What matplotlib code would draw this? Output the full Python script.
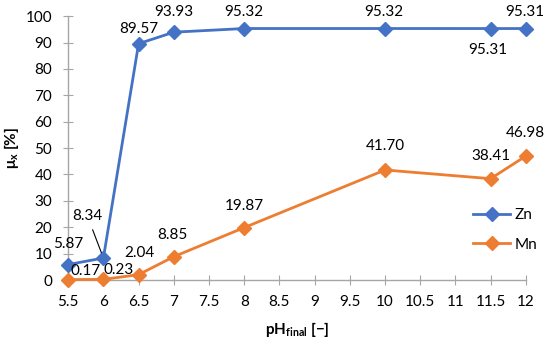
import matplotlib.pyplot as plt
import numpy as np

plt.rcParams['font.family'] = ['Lato', 'DejaVu Sans']
plt.rcParams['mathtext.fontset'] = 'custom'
plt.rcParams['mathtext.rm'] = 'Lato'
plt.rcParams['mathtext.bf'] = 'Lato:bold'

# data
ph = [5.5, 6, 6.5, 7, 8, 10, 11.5, 12]
zn = [5.87, 8.34, 89.57, 93.93, 95.32, 95.32, 95.31, 95.31]
mn = [0.17, 0.23, 2.04, 8.85, 19.87, 41.70, 38.41, 46.98]
xtick_labels = ['5.5', '6', '6.5', '7', '7.5', '8', '8.5', '9', '9.5', '10', '10.5', '11', '11.5', '12']

# label offsets (pixels) for each point
zn_off = [(0, 21), (-16, 42), (0, 15), (0, 20), (0, 17), (-1, 17), (-3, -21), (-1, 17)]
mn_off = [(17, 9), (15, 9), (1, 22), (-1, 22), (0, 22), (0, 24), (0, 23), (0, 23)]

blue = '#4472C4'
orange = '#ED7D31'
grey = '#A6A6A6'

fig, ax = plt.subplots(figsize=(5.5, 3.44), dpi=100)
fig.subplots_adjust(left=0.124, right=0.956, bottom=0.186, top=0.953)

ax.plot(ph, zn, color=blue, lw=2, marker='D', ms=7, label='Zn', clip_on=False, zorder=3)
ax.plot(ph, mn, color=orange, lw=2, marker='D', ms=7, label='Mn', clip_on=False, zorder=3)

for x, y, o in zip(ph, zn, zn_off):
    kw = {}
    if x == 6:
        kw = dict(arrowprops=dict(arrowstyle='-', color='black', lw=0.8, shrinkA=3, shrinkB=4))
    ax.annotate(f'{y:.2f}', (x, y), xytext=o, textcoords='offset pixels',
                ha='center', va='center', fontsize=11, **kw)
for x, y, o in zip(ph, mn, mn_off):
    ax.annotate(f'{y:.2f}', (x, y), xytext=o, textcoords='offset pixels',
                ha='center', va='center', fontsize=11)

ax.set_xlim(5.5, 12)
ax.set_ylim(0, 100)
ax.set_xticks(np.arange(5.5, 12.01, 0.5))
ax.set_xticklabels(xtick_labels)
ax.set_yticks(np.arange(0, 101, 10))

for s in ['top', 'right']:
    ax.spines[s].set_visible(False)
for s in ['left', 'bottom']:
    ax.spines[s].set_color(grey)
    ax.spines[s].set_linewidth(1)
ax.tick_params(direction='inout', length=7, color=grey, labelsize=11)
ax.tick_params(axis='y', pad=8)
ax.tick_params(axis='x', pad=7)

ax.set_xlabel(r'$\mathbf{pH_{final}}$ [−]', fontsize=11, fontweight='bold', labelpad=8)
ax.set_ylabel(r'$\mathbf{\mu_x}$ [%]', fontsize=11, fontweight='bold', labelpad=3)

ax.legend(loc='center left', bbox_to_anchor=(0.872, 0.19), frameon=False, fontsize=11,
          handlelength=2.4, labelspacing=1.0, handletextpad=0.3, borderaxespad=0)

fig.savefig('out.png', dpi=100)
